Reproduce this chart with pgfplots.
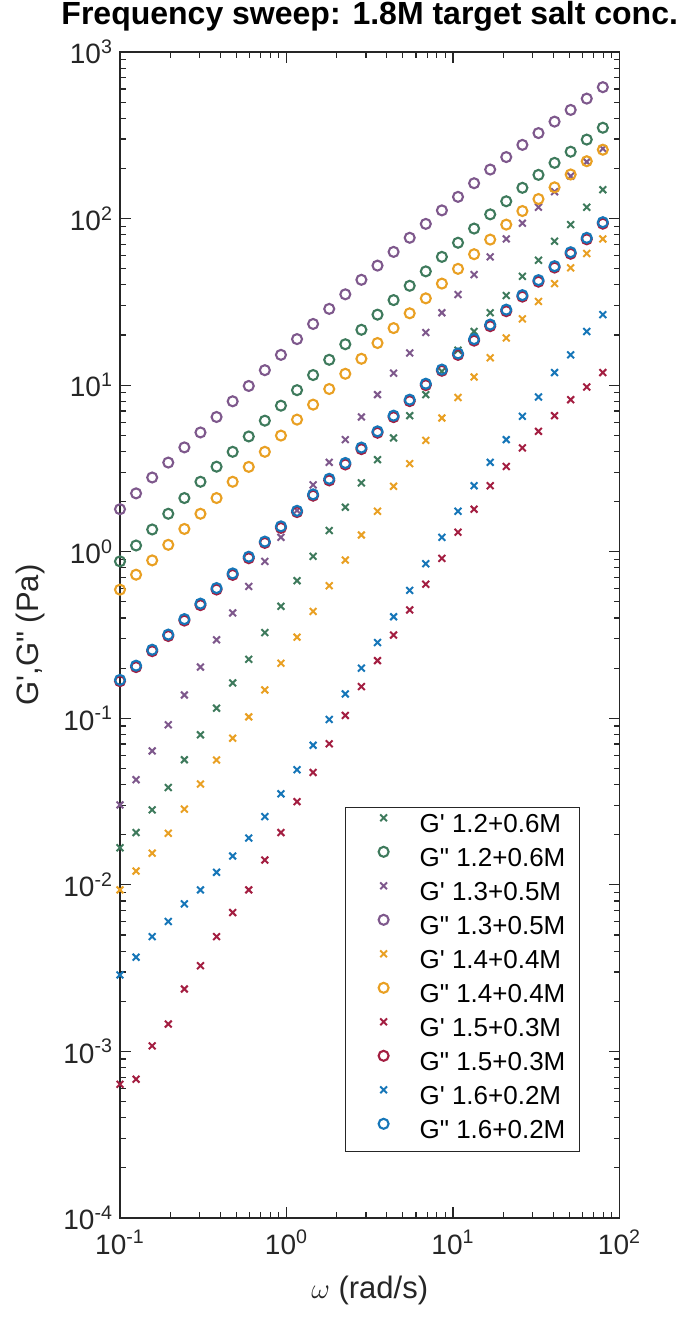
\documentclass[border=0pt]{standalone}
\usepackage{fontspec}
\setmainfont{Liberation Sans}
\usepackage{pgfplots}
\pgfplotsset{compat=1.18}
\usepackage{pgfplotstable}

\definecolor{cgreen}{RGB}{62,122,92}
\definecolor{cpurple}{RGB}{126,88,140}
\definecolor{corange}{RGB}{233,160,35}
\definecolor{cred}{RGB}{163,30,65}
\definecolor{cblue}{RGB}{22,118,184}
\definecolor{axgray}{RGB}{38,38,38}

\pgfplotstableread{
w gp12 gpp12 gp13 gpp13 gp14 gpp14 gp15 gpp15 gp16 gpp16
0.1    0.0167 0.875 0.0302 1.80 0.00933 0.592 0.000635 0.167 0.00288 0.170
0.1249 0.0206 1.09 0.0428 2.24 0.0121 0.728 0.000681 0.203 0.00368 0.207
0.1561 0.0282 1.36 0.0637 2.79 0.0155 0.887 0.00108 0.253 0.00489 0.258
0.1950 0.0384 1.69 0.0914 3.43 0.0204 1.10 0.00146 0.312 0.00603 0.318
0.2436 0.0564 2.10 0.138 4.23 0.0285 1.37 0.00237 0.386 0.00769 0.394
0.3043 0.0796 2.63 0.203 5.20 0.0403 1.69 0.00327 0.478 0.00933 0.488
0.3802 0.115 3.24 0.296 6.44 0.0562 2.10 0.00489 0.593 0.0119 0.605
0.4750 0.163 3.98 0.429 8.00 0.0759 2.63 0.00682 0.726 0.0149 0.741
0.5934 0.226 4.92 0.619 9.89 0.102 3.23 0.00933 0.914 0.0191 0.933
0.7413 0.327 6.12 0.875 12.3 0.148 3.98 0.0141 1.13 0.0257 1.15
0.9261 0.470 7.53 1.22 15.2 0.214 4.98 0.0206 1.39 0.0352 1.42
1.157 0.670 9.33 1.77 18.9 0.307 6.21 0.0316 1.73 0.0491 1.76
1.445 0.938 11.5 2.52 23.3 0.438 7.64 0.0473 2.17 0.0689 2.21
1.806 1.34 14.2 3.44 28.7 0.625 9.48 0.0703 2.68 0.0984 2.74
2.256 1.85 17.6 4.71 35.1 0.891 11.7 0.104 3.34 0.140 3.41
2.818 2.59 21.5 6.44 42.9 1.26 14.4 0.155 4.13 0.200 4.22
3.521 3.57 26.5 8.77 52.2 1.75 17.9 0.222 5.18 0.285 5.28
4.398 4.82 32.4 11.8 63.1 2.47 22.0 0.316 6.43 0.407 6.56
5.495 6.56 39.5 15.6 76.7 3.38 27.0 0.447 8.02 0.586 8.18
6.866 8.77 48.2 20.7 92.9 4.66 33.2 0.638 10.0 0.847 10.2
8.577 12.1 58.9 27.2 112 6.35 40.7 0.912 12.2 1.22 12.4
10.72 16.2 71.6 35.0 135 8.43 49.9 1.31 15.2 1.75 15.5
13.39 21.0 87.1 46.1 163 11.2 61.1 1.80 18.5 2.49 18.9
16.73 27.2 106 58.9 197 14.6 74.8 2.49 22.6 3.44 23.1
20.89 34.5 127 75.5 234 19.2 92.0 3.25 27.8 4.71 28.4
26.11 45.0 153 93.8 277 25.0 111 4.20 34.0 6.50 34.7
32.62 56.2 183 117 326 31.8 131 5.28 41.8 8.49 42.7
40.74 73.1 216 145 382 40.7 154 6.56 50.8 11.9 51.8
50.90 92.0 252 180 449 50.6 184 8.18 61.5 15.2 62.8
63.59 117 298 219 525 61.7 221 9.75 75.1 21.0 76.6
79.43 149 351 263 615 75.5 259 11.9 93.2 26.5 95.1
}\data

\begin{document}
\begin{tikzpicture}
\path[use as bounding box] (-60pt,-50.5pt) rectangle (284.5pt,609pt);
\begin{axis}[
  at={(0,0)}, anchor=south west,
  xmode=log, ymode=log, log basis x=10, log basis y=10,
  scale only axis, width=249.75pt, height=583pt,
  xmin=0.1, xmax=100, ymin=1e-4, ymax=1e3,
  clip=false,
  axis line style={draw=axgray, line width=0.7pt},
  tick style={draw=axgray, line width=0.6pt},
  major tick length=5.5pt, minor tick length=3pt,
  tick align=inside,
  xtick pos=both, ytick pos=both,
  xticklabel pos=bottom, yticklabel pos=left,
  xtick={0.1,1,10,100},
  xticklabels={10\textsuperscript{-1},10\textsuperscript{0},10\textsuperscript{1},10\textsuperscript{2}},
  ytick={1e-4,1e-3,1e-2,1e-1,1,10,100,1000},
  yticklabels={10\textsuperscript{-4},10\textsuperscript{-3},10\textsuperscript{-2},10\textsuperscript{-1},10\textsuperscript{0},10\textsuperscript{1},10\textsuperscript{2},10\textsuperscript{3}},
  minor xtick={0.2,0.3,0.4,0.5,0.6,0.7,0.8,0.9,2,3,4,5,6,7,8,9,20,30,40,50,60,70,80,90},
  minor ytick={2e-4,3e-4,4e-4,5e-4,6e-4,7e-4,8e-4,9e-4,2e-3,3e-3,4e-3,5e-3,6e-3,7e-3,8e-3,9e-3,0.02,0.03,0.04,0.05,0.06,0.07,0.08,0.09,0.2,0.3,0.4,0.5,0.6,0.7,0.8,0.9,2,3,4,5,6,7,8,9,20,30,40,50,60,70,80,90,200,300,400,500,600,700,800,900},
  ticklabel style={font=\fontsize{14}{16}\selectfont, text=axgray},
  xticklabel style={yshift=-2.5pt},
  title={Frequency sweep: 1.8M target salt conc.},
  title style={font=\bfseries\fontsize{16}{19}\selectfont, at={(axis description cs:0.5,1)}, anchor=base, yshift=7.5pt},
  xlabel={$\omega$ (rad/s)},
  xlabel style={font=\fontsize{15.5}{18}\selectfont, text=axgray, at={(axis description cs:0.5,-0.0618)}, anchor=center},
  ylabel={G\textquotesingle,G\textquotedbl{} (Pa)},
  ylabel style={font=\fontsize{15.5}{18}\selectfont, text=axgray, at={(axis description cs:-0.18,0.5)}, anchor=center},
  legend cell align=left,
  legend style={at={(axis description cs:0.4505,0.3525)}, anchor=north west,
    draw=axgray, line width=0.6pt, fill=white,
    font=\fontsize{13}{15}\selectfont, text=black,
    inner xsep=4pt, inner ysep=1pt, row sep=0pt,
    nodes={inner xsep=3pt, inner ysep=1.9pt, text height=9.7pt, text depth=3.5pt}},
  legend image code/.code={%
    \path[draw=none, fill=none] (0pt,4.4pt) -- (30pt,4.4pt);
    \draw[only marks, mark repeat=2, mark phase=2] plot coordinates {(0pt,4.4pt) (15pt,4.4pt) (30pt,4.4pt)};},
  gx/.style={only marks, mark=x, mark size=2.4pt, line width=1.0pt, color=#1},
  go/.style={only marks, mark=o, mark size=2.5pt, line width=1.05pt, color=#1},
]
\addplot[gx=cgreen] table[x=w,y=gp12]{\data};
\addlegendentry{G\textquotesingle{} 1.2+0.6M}
\addplot[go=cgreen] table[x=w,y=gpp12]{\data};
\addlegendentry{G\textquotedbl{} 1.2+0.6M}
\addplot[gx=cpurple] table[x=w,y=gp13]{\data};
\addlegendentry{G\textquotesingle{} 1.3+0.5M}
\addplot[go=cpurple] table[x=w,y=gpp13]{\data};
\addlegendentry{G\textquotedbl{} 1.3+0.5M}
\addplot[gx=corange] table[x=w,y=gp14]{\data};
\addlegendentry{G\textquotesingle{} 1.4+0.4M}
\addplot[go=corange] table[x=w,y=gpp14]{\data};
\addlegendentry{G\textquotedbl{} 1.4+0.4M}
\addplot[gx=cred] table[x=w,y=gp15]{\data};
\addlegendentry{G\textquotesingle{} 1.5+0.3M}
\addplot[go=cred] table[x=w,y=gpp15]{\data};
\addlegendentry{G\textquotedbl{} 1.5+0.3M}
\addplot[gx=cblue] table[x=w,y=gp16]{\data};
\addlegendentry{G\textquotesingle{} 1.6+0.2M}
\addplot[go=cblue] table[x=w,y=gpp16]{\data};
\addlegendentry{G\textquotedbl{} 1.6+0.2M}
\end{axis}
\end{tikzpicture}
\end{document}
